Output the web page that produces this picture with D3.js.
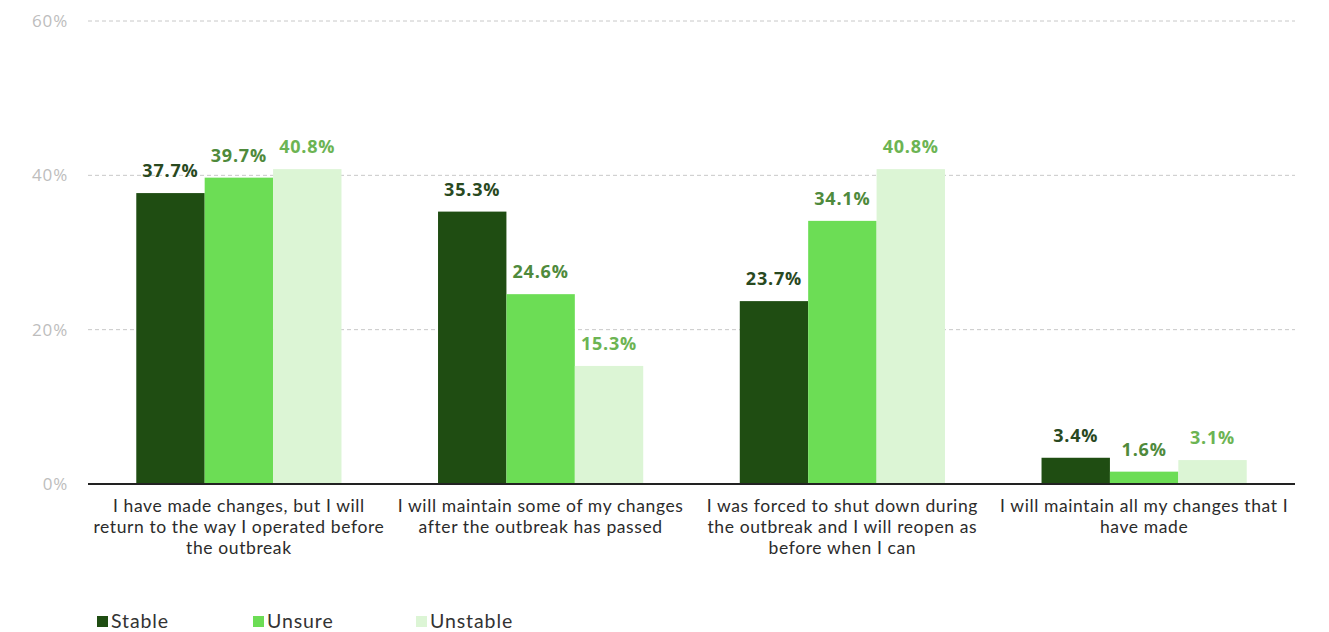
<!DOCTYPE html>
<html><head><meta charset="utf-8">
<script src="https://cdn.jsdelivr.net/npm/d3@7"></script>
<style>body{margin:0;background:#fff}svg{display:block}</style>
</head><body>
<svg id="c" width="1329" height="632"></svg>
<script>
const categories = [
  ["I have made changes, but I will","return to the way I operated before","the outbreak"],
  ["I will maintain some of my changes","after the outbreak has passed"],
  ["I was forced to shut down during","the outbreak and I will reopen as","before when I can"],
  ["I will maintain all my changes that I","have made"]
];
const seriesNames = ["Stable","Unsure","Unstable"];
const stable = [37.7, 35.3, 23.7, 3.4];
const unsure = [39.7, 24.6, 34.1, 1.6];
const unstable = [40.8, 15.3, 40.8, 3.1];
const yTicks = [0, 20, 40, 60];

const colors = ["#1f4d12", "#6cdd55", "#dcf5d5"];
const labelColors = ["#29491f", "#4f8a3c", "#6cb453"];
const values = [stable, unsure, unstable];

const svg = d3.select("#c");
const font = "'Open Sans', Lato, sans-serif";
const font2 = "Lato, 'Open Sans', sans-serif";
const y = d3.scaleLinear().domain([0, 60]).range([484, 21]);
const x0 = d3.scaleBand().domain(d3.range(categories.length)).range([88, 1295]).paddingInner(0.32).paddingOuter(0.16);
const x1 = d3.scaleBand().domain(d3.range(seriesNames.length)).range([0, x0.bandwidth()]);

// gridlines
svg.append("g").selectAll("line").data(yTicks.filter(t => t > 0)).join("line")
  .attr("x1", 88).attr("x2", 1295).attr("y1", d => y(d)).attr("y2", d => y(d))
  .attr("stroke", "#c8c8c8").attr("stroke-width", 1).attr("stroke-dasharray", "4,3");
// tick labels
svg.append("g").selectAll("text").data(yTicks).join("text")
  .attr("x", 68).attr("y", d => y(d) + 6).attr("text-anchor", "end")
  .attr("font-family", font).attr("font-size", 17).attr("letter-spacing", 0.8).attr("fill", "#bdbdbd")
  .text(d => d + "%");

// bars
const groups = svg.append("g").selectAll("g").data(categories).join("g")
  .attr("transform", (d, i) => `translate(${x0(i)},0)`);
groups.each(function(c, ci) {
  const g = d3.select(this);
  seriesNames.forEach((s, si) => {
    const v = values[si][ci];
    g.append("rect").attr("x", x1(si)).attr("width", x1.bandwidth())
      .attr("y", y(v)).attr("height", y(0) - y(v)).attr("fill", colors[si]);
    g.append("text").attr("x", x1(si) + x1.bandwidth() / 2).attr("y", y(v) - 16)
      .attr("text-anchor", "middle").attr("font-family", font).attr("font-weight", 700)
      .attr("font-size", 18).attr("letter-spacing", 0.8).attr("fill", labelColors[si]).text(v.toFixed(1) + "%");
  });
  const t = g.append("text").attr("text-anchor", "middle").attr("font-family", font2)
    .attr("font-size", 17.5).attr("letter-spacing", 0.6).attr("fill", "#2b2b2b");
  c.forEach((line, li) => {
    t.append("tspan").attr("x", x0.bandwidth() / 2).attr("y", 512 + li * 21).text(line);
  });
});

// axis line
svg.append("line").attr("x1", 88).attr("x2", 1295).attr("y1", y(0)).attr("y2", y(0))
  .attr("stroke", "#222").attr("stroke-width", 2);

// legend
const legX = [97, 253, 416];
const leg = svg.append("g").selectAll("g").data(seriesNames).join("g")
  .attr("transform", (d, i) => `translate(${legX[i]},616)`);
leg.append("rect").attr("width", 11).attr("height", 11).attr("fill", (d, i) => colors[i]);
leg.append("text").attr("x", 14).attr("y", 11.5).attr("font-family", font2).attr("font-size", 19.5)
  .attr("letter-spacing", 0.9).attr("fill", "#333").text(d => d);
</script>
</body></html>
